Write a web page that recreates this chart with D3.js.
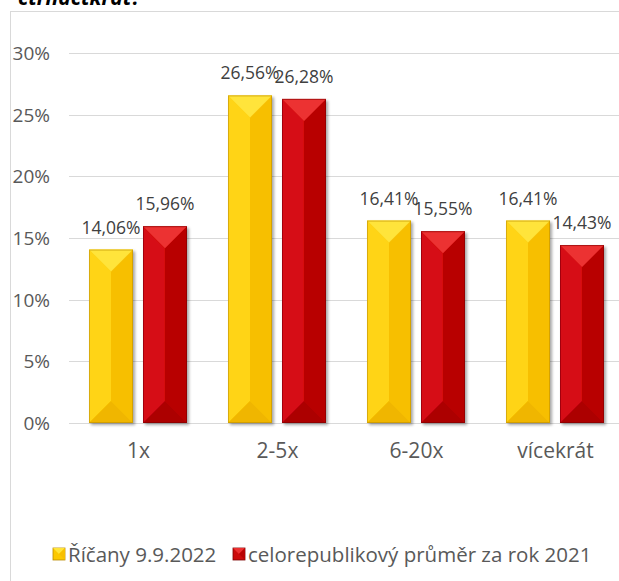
<!DOCTYPE html>
<html><head><meta charset="utf-8">
<script src="https://cdn.jsdelivr.net/npm/d3@7"></script>
<style>body{margin:0;background:#fff}svg{display:block}text{font-family:"Open Sans",sans-serif}</style>
</head><body>
<svg id="c" width="619" height="581"></svg>
<script>
const categories = ["1x", "2-5x", "6-20x", "vícekrát"];
const seriesNames = ["Říčany 9.9.2022", "celorepublikový průměr za rok 2021"];
const ricany = [14.06, 26.56, 16.41, 16.41];
const prumer = [15.96, 26.28, 15.55, 14.43];
const yTicks = [0, 5, 10, 15, 20, 25, 30];
const titleText = "čtrnáctkrát?";

const svg = d3.select("#c");
const pal = [
  {main:"#fcc800", left:"#ffd414", right:"#f7bf00", top:"#ffe43a", bottom:"#f0b600", edge:"#b98a00"},
  {main:"#cc0a0a", left:"#d60c12", right:"#b80202", top:"#ec3030", bottom:"#ac0303", edge:"#7a0000"}
];

// frame + title
svg.append("rect").attr("x",10.5).attr("y",11.5).attr("width",640).attr("height",600)
  .attr("fill","#fff").attr("stroke","#d9d9d9");
svg.append("text").attr("x",18).attr("y",5).attr("font-size",21).attr("font-weight","bold")
  .attr("font-style","italic").attr("fill","#000").text(titleText);

const y = d3.scaleLinear().domain([0,30]).range([423,53]);
const x0 = d3.scaleBand().domain(categories).range([69,625]);
const x1 = d3.scaleBand().domain([0,1]).range([20,118]).paddingInner(0.185);

// grid
svg.append("g").selectAll("line").data(yTicks).join("line")
  .attr("x1",69).attr("x2",619).attr("y1",d=>Math.round(y(d))+0.5).attr("y2",d=>Math.round(y(d))+0.5)
  .attr("stroke","#d9d9d9").attr("stroke-width",1);
svg.append("g").selectAll("text").data(yTicks).join("text")
  .attr("x",50).attr("y",d=>y(d)+7).attr("text-anchor","end").attr("font-size",19)
  .attr("fill","#595959").text(d=>d+"%");

// shadow filter
const defs = svg.append("defs");
const f = defs.append("filter").attr("id","sh").attr("x","-20%").attr("y","-10%").attr("width","150%").attr("height","130%");
f.append("feGaussianBlur").attr("in","SourceAlpha").attr("stdDeviation",1.5);
f.append("feOffset").attr("dx",2).attr("dy",2).attr("result","b");
f.append("feComponentTransfer").append("feFuncA").attr("type","linear").attr("slope",0.35);
const m = f.append("feMerge"); m.append("feMergeNode"); m.append("feMergeNode").attr("in","SourceGraphic");

const data = [];
categories.forEach((c,i)=>{
  [ricany[i], prumer[i]].forEach((v,s)=>data.push({c, v, s}));
});

svg.append("g").selectAll("g").data(data).join("g").each(function(d){
  const g = d3.select(this);
  const xa = x0(d.c) + x1(d.s), w = x1.bandwidth();
  const xb = xa + w, mid = xa + w/2;
  const yt = y(d.v), yb = y(0);
  const h = yb - yt;
  const bv = Math.min(w/2, h/2);
  const p = pal[d.s];
  const gg = g.append("g").attr("filter","url(#sh)");
  gg.append("rect").attr("x",xa).attr("y",yt).attr("width",w).attr("height",h).attr("fill",p.main);
  gg.append("polygon").attr("points",[[xa,yt],[mid,yt+bv],[mid,yb-bv],[xa,yb]].join(" ")).attr("fill",p.left);
  gg.append("polygon").attr("points",[[xb,yt],[mid,yt+bv],[mid,yb-bv],[xb,yb]].join(" ")).attr("fill",p.right);
  gg.append("polygon").attr("points",[[xa,yt],[xb,yt],[mid,yt+bv]].join(" ")).attr("fill",p.top);
  gg.append("polygon").attr("points",[[xa,yb],[xb,yb],[mid,yb-bv]].join(" ")).attr("fill",p.bottom);
  gg.append("rect").attr("x",xa+0.5).attr("y",yt+0.5).attr("width",w-1).attr("height",h-1)
    .attr("fill","none").attr("stroke",p.edge).attr("stroke-opacity",0.55);
  g.append("text").attr("x",mid).attr("y",yt-16).attr("text-anchor","middle").attr("font-size",17.5)
    .attr("fill","#404040").text(d3.format(".2f")(d.v).replace(".",",")+"%");
});

// x labels
svg.append("g").selectAll("text").data(categories).join("text")
  .attr("x",d=>x0(d)+x0.bandwidth()/2).attr("y",458).attr("text-anchor","middle")
  .attr("font-size",21).attr("fill","#595959").text(d=>d);

// legend
const leg = [{x:53, tx:68},{x:233, tx:248}];
seriesNames.forEach((n,i)=>{
  const p = pal[i], lx = leg[i].x, ly = 548, s = 12;
  svg.append("rect").attr("x",lx).attr("y",ly).attr("width",s).attr("height",s)
    .attr("fill",p.main).attr("stroke",p.edge).attr("stroke-width",0.8);
  svg.append("polygon").attr("points",[[lx,ly],[lx+s,ly],[lx+s/2,ly+s/2]].join(" ")).attr("fill",p.top);
  svg.append("polygon").attr("points",[[lx+s,ly],[lx+s/2,ly+s/2],[lx+s,ly+s]].join(" ")).attr("fill",p.right);
  svg.append("text").attr("x",leg[i].tx).attr("y",562).attr("font-size",20.5).attr("fill","#595959").text(n);
});
</script>
</body></html>
